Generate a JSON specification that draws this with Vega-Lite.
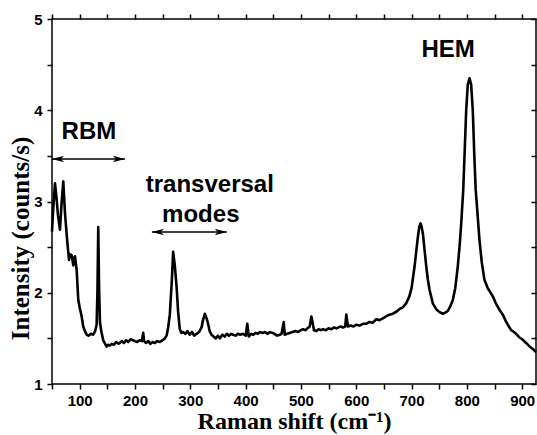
{
  "$schema": "https://vega.github.io/schema/vega-lite/v6.json",
  "width": 484,
  "height": 365,
  "autosize": {"type": "none"},
  "padding": {"left": 52, "top": 19, "right": 1, "bottom": 51},
  "background": "white",
  "config": {
    "view": {"stroke": "black", "strokeWidth": 1.5}
  },
  "datasets": {
    "spectrum": [
      {"shift": 50, "intensity": 2.67}, {"shift": 52, "intensity": 2.9}, {"shift": 55.4, "intensity": 3.2}, {"shift": 58, "intensity": 3.05},
      {"shift": 60.8, "intensity": 2.85}, {"shift": 64.4, "intensity": 2.69}, {"shift": 67, "intensity": 2.95}, {"shift": 70.4, "intensity": 3.22},
      {"shift": 73.5, "intensity": 2.87}, {"shift": 77.6, "intensity": 2.56}, {"shift": 80.7, "intensity": 2.36}, {"shift": 83, "intensity": 2.42},
      {"shift": 85.6, "intensity": 2.41}, {"shift": 88.5, "intensity": 2.3}, {"shift": 90, "intensity": 2.38}, {"shift": 91.5, "intensity": 2.4},
      {"shift": 94.6, "intensity": 2.25}, {"shift": 97.5, "intensity": 1.92}, {"shift": 100, "intensity": 1.84}, {"shift": 103.6, "intensity": 1.74},
      {"shift": 106.5, "intensity": 1.63}, {"shift": 109.5, "intensity": 1.58}, {"shift": 112.7, "intensity": 1.54}, {"shift": 116, "intensity": 1.53},
      {"shift": 120, "intensity": 1.55}, {"shift": 124.6, "intensity": 1.54}, {"shift": 128, "intensity": 1.58}, {"shift": 130.7, "intensity": 1.65},
      {"shift": 132.2, "intensity": 2.03}, {"shift": 133.6, "intensity": 2.72}, {"shift": 135.2, "intensity": 2.03}, {"shift": 136.7, "intensity": 1.68},
      {"shift": 139, "intensity": 1.58}, {"shift": 142.6, "intensity": 1.48}, {"shift": 145, "intensity": 1.45}, {"shift": 148.8, "intensity": 1.41},
      {"shift": 151, "intensity": 1.43}, {"shift": 154.7, "intensity": 1.42}, {"shift": 158, "intensity": 1.44}, {"shift": 162, "intensity": 1.43},
      {"shift": 166, "intensity": 1.46}, {"shift": 170, "intensity": 1.44}, {"shift": 172.8, "intensity": 1.45}, {"shift": 176, "intensity": 1.47},
      {"shift": 180, "intensity": 1.45}, {"shift": 184, "intensity": 1.48}, {"shift": 188, "intensity": 1.46}, {"shift": 192, "intensity": 1.49},
      {"shift": 196.3, "intensity": 1.48}, {"shift": 200, "intensity": 1.47}, {"shift": 204, "intensity": 1.46}, {"shift": 208, "intensity": 1.48},
      {"shift": 212.5, "intensity": 1.47}, {"shift": 214.9, "intensity": 1.56}, {"shift": 216.5, "intensity": 1.47}, {"shift": 220, "intensity": 1.45},
      {"shift": 224, "intensity": 1.47}, {"shift": 228, "intensity": 1.44}, {"shift": 232, "intensity": 1.46}, {"shift": 236, "intensity": 1.45},
      {"shift": 240, "intensity": 1.47}, {"shift": 245, "intensity": 1.46}, {"shift": 250, "intensity": 1.48}, {"shift": 254, "intensity": 1.5},
      {"shift": 257.1, "intensity": 1.53}, {"shift": 260, "intensity": 1.62}, {"shift": 263, "intensity": 1.76}, {"shift": 266.7, "intensity": 2.14},
      {"shift": 269, "intensity": 2.45}, {"shift": 272, "intensity": 2.3}, {"shift": 275.2, "intensity": 2.07}, {"shift": 278, "intensity": 1.79},
      {"shift": 281, "intensity": 1.6}, {"shift": 284, "intensity": 1.56}, {"shift": 287, "intensity": 1.57}, {"shift": 291, "intensity": 1.55},
      {"shift": 295, "intensity": 1.58}, {"shift": 299, "intensity": 1.54}, {"shift": 303, "intensity": 1.57}, {"shift": 307, "intensity": 1.53},
      {"shift": 311.3, "intensity": 1.55}, {"shift": 316, "intensity": 1.57}, {"shift": 320.3, "intensity": 1.62}, {"shift": 323, "intensity": 1.7},
      {"shift": 326.3, "intensity": 1.77}, {"shift": 329, "intensity": 1.73}, {"shift": 332.2, "intensity": 1.66}, {"shift": 335, "intensity": 1.58},
      {"shift": 338.4, "intensity": 1.54}, {"shift": 342, "intensity": 1.52}, {"shift": 346, "intensity": 1.5}, {"shift": 350, "intensity": 1.53},
      {"shift": 353.4, "intensity": 1.5}, {"shift": 358, "intensity": 1.54}, {"shift": 362, "intensity": 1.52}, {"shift": 366, "intensity": 1.55},
      {"shift": 370, "intensity": 1.53}, {"shift": 374, "intensity": 1.55}, {"shift": 377.4, "intensity": 1.54}, {"shift": 382, "intensity": 1.53},
      {"shift": 386, "intensity": 1.55}, {"shift": 390, "intensity": 1.54}, {"shift": 395, "intensity": 1.55}, {"shift": 400.3, "intensity": 1.53},
      {"shift": 403, "intensity": 1.66}, {"shift": 405.7, "intensity": 1.52}, {"shift": 410, "intensity": 1.55}, {"shift": 414, "intensity": 1.54},
      {"shift": 418, "intensity": 1.56}, {"shift": 422, "intensity": 1.55}, {"shift": 426, "intensity": 1.57}, {"shift": 431.5, "intensity": 1.56},
      {"shift": 435, "intensity": 1.57}, {"shift": 440, "intensity": 1.55}, {"shift": 443.6, "intensity": 1.57}, {"shift": 448, "intensity": 1.56},
      {"shift": 452, "intensity": 1.55}, {"shift": 457, "intensity": 1.53}, {"shift": 461.7, "intensity": 1.54}, {"shift": 465, "intensity": 1.55},
      {"shift": 468.9, "intensity": 1.68}, {"shift": 470.7, "intensity": 1.54}, {"shift": 475, "intensity": 1.55}, {"shift": 479.8, "intensity": 1.56},
      {"shift": 485, "intensity": 1.57}, {"shift": 490, "intensity": 1.58}, {"shift": 495, "intensity": 1.57}, {"shift": 500, "intensity": 1.59},
      {"shift": 503.8, "intensity": 1.6}, {"shift": 508, "intensity": 1.59}, {"shift": 512, "intensity": 1.61}, {"shift": 515.9, "intensity": 1.63},
      {"shift": 518.9, "intensity": 1.74}, {"shift": 521, "intensity": 1.68}, {"shift": 523.6, "intensity": 1.59}, {"shift": 528, "intensity": 1.58},
      {"shift": 532, "intensity": 1.6}, {"shift": 536, "intensity": 1.59}, {"shift": 540, "intensity": 1.6}, {"shift": 545, "intensity": 1.59},
      {"shift": 550, "intensity": 1.61}, {"shift": 555, "intensity": 1.6}, {"shift": 560, "intensity": 1.62}, {"shift": 564.1, "intensity": 1.61},
      {"shift": 568, "intensity": 1.62}, {"shift": 572, "intensity": 1.63}, {"shift": 576, "intensity": 1.62}, {"shift": 580, "intensity": 1.63},
      {"shift": 582.1, "intensity": 1.76}, {"shift": 585, "intensity": 1.63}, {"shift": 590, "intensity": 1.64}, {"shift": 595, "intensity": 1.63},
      {"shift": 600, "intensity": 1.65}, {"shift": 606, "intensity": 1.64}, {"shift": 612, "intensity": 1.66}, {"shift": 618, "intensity": 1.66},
      {"shift": 624, "intensity": 1.68}, {"shift": 630, "intensity": 1.67}, {"shift": 636, "intensity": 1.71}, {"shift": 642, "intensity": 1.7},
      {"shift": 648, "intensity": 1.72}, {"shift": 654, "intensity": 1.74}, {"shift": 660, "intensity": 1.76}, {"shift": 666, "intensity": 1.77},
      {"shift": 672, "intensity": 1.79}, {"shift": 678, "intensity": 1.82}, {"shift": 684, "intensity": 1.84}, {"shift": 690, "intensity": 1.88},
      {"shift": 696, "intensity": 1.96}, {"shift": 700, "intensity": 2.05}, {"shift": 705.5, "intensity": 2.29}, {"shift": 711.4, "intensity": 2.61},
      {"shift": 714, "intensity": 2.72}, {"shift": 716.3, "intensity": 2.76}, {"shift": 718, "intensity": 2.73}, {"shift": 720.5, "intensity": 2.65},
      {"shift": 723.5, "intensity": 2.47}, {"shift": 726.6, "intensity": 2.29}, {"shift": 729.6, "intensity": 2.14}, {"shift": 732.6, "intensity": 2.03},
      {"shift": 738.6, "intensity": 1.88}, {"shift": 744.6, "intensity": 1.82}, {"shift": 750, "intensity": 1.79}, {"shift": 756.6, "intensity": 1.77},
      {"shift": 760, "intensity": 1.78}, {"shift": 765.6, "intensity": 1.8}, {"shift": 770, "intensity": 1.85}, {"shift": 774.6, "intensity": 1.92},
      {"shift": 779, "intensity": 2.05}, {"shift": 783.6, "intensity": 2.29}, {"shift": 787, "intensity": 2.52}, {"shift": 789.8, "intensity": 2.76},
      {"shift": 793.5, "intensity": 3.13}, {"shift": 798.8, "intensity": 4.0}, {"shift": 801.7, "intensity": 4.28}, {"shift": 804.8, "intensity": 4.35},
      {"shift": 807.8, "intensity": 4.28}, {"shift": 810.7, "intensity": 4.0}, {"shift": 813.5, "intensity": 3.5}, {"shift": 816, "intensity": 3.13},
      {"shift": 822.8, "intensity": 2.58}, {"shift": 827, "intensity": 2.33}, {"shift": 831.9, "intensity": 2.14}, {"shift": 837.8, "intensity": 2.05},
      {"shift": 841, "intensity": 2.02}, {"shift": 846.9, "intensity": 1.96}, {"shift": 852, "intensity": 1.89}, {"shift": 859.2, "intensity": 1.81},
      {"shift": 865, "intensity": 1.76}, {"shift": 871.1, "intensity": 1.68}, {"shift": 876, "intensity": 1.63}, {"shift": 880.1, "intensity": 1.59},
      {"shift": 885, "intensity": 1.57}, {"shift": 889, "intensity": 1.55}, {"shift": 895, "intensity": 1.51}, {"shift": 900, "intensity": 1.49},
      {"shift": 907.1, "intensity": 1.45}, {"shift": 912, "intensity": 1.42}, {"shift": 918, "intensity": 1.39}, {"shift": 925, "intensity": 1.35}
    ],
    "arrows": [
      {"x1": 50, "x2": 181.8, "y": 3.466},
      {"x1": 230.6, "x2": 366, "y": 2.666}
    ],
    "heads": [
      {"x": 50, "y": 3.466, "dir": "left"},
      {"x": 181.8, "y": 3.466, "dir": "right"},
      {"x": 230.6, "y": 2.666, "dir": "left"},
      {"x": 366, "y": 2.666, "dir": "right"}
    ],
    "labels": [
      {"x": 116.8, "y": 3.685, "label": "RBM"},
      {"x": 335.3, "y": 3.104, "label": "transversal"},
      {"x": 319, "y": 2.775, "label": "modes"},
      {"x": 766, "y": 4.584, "label": "HEM"}
    ]
  },
  "layer": [
    {
      "data": {"name": "spectrum"},
      "mark": {"type": "line", "color": "black", "strokeWidth": 2.6, "strokeJoin": "round"},
      "encoding": {
        "x": {
          "field": "shift", "type": "quantitative",
          "scale": {"domain": [50, 925], "nice": false, "zero": false},
          "axis": {
            "orient": "bottom", "grid": true, "gridOpacity": 0, "domain": false,
            "ticks": true, "tickColor": "black", "tickWidth": 1.5,
            "values": [50, 100, 150, 200, 250, 300, 350, 400, 450, 500, 550, 600, 650, 700, 750, 800, 850, 900],
            "labelExpr": "datum.value % 100 === 0 ? datum.label : ''",
            "tickSize": 5,
            "labelFont": "Liberation Sans", "labelFontWeight": "bold", "labelFontSize": 15, "labelPadding": 4, "labelColor": "black",
            "labelFlush": false, "labelOverlap": false,
            "title": "Raman shift (cm⁻¹)", "titleColor": "black",
            "titleFont": "Liberation Serif", "titleFontWeight": "bold", "titleFontSize": 24,
            "titleBaseline": "alphabetic", "titleY": 44
          }
        },
        "y": {
          "field": "intensity", "type": "quantitative",
          "scale": {"domain": [1, 5], "nice": false, "zero": false},
          "axis": {
            "orient": "left", "grid": true, "gridOpacity": 0, "domain": false,
            "ticks": true, "tickColor": "black", "tickWidth": 1.5,
            "values": [1, 1.5, 2, 2.5, 3, 3.5, 4, 4.5, 5],
            "labelExpr": "datum.value % 1 === 0 ? format(datum.value, 'd') : ''",
            "tickSize": 5,
            "labelFont": "Liberation Sans", "labelFontWeight": "bold", "labelFontSize": 15, "labelPadding": 5, "labelColor": "black",
            "labelFlush": false, "labelOverlap": false,
            "title": "Intensity (counts/s)", "titleColor": "black",
            "titleFont": "Liberation Serif", "titleFontWeight": "bold", "titleFontSize": 25,
            "titleBaseline": "alphabetic", "titleX": -24, "titleY": 219
          }
        }
      }
    },
    {
      "data": {"name": "arrows"},
      "mark": {"type": "rule", "color": "black", "strokeWidth": 1.3},
      "encoding": {
        "x": {
          "field": "x1", "type": "quantitative",
          "axis": {"orient": "top", "grid": true, "gridOpacity": 0, "domain": false, "ticks": true, "tickColor": "black", "tickWidth": 1.5, "labels": false, "title": null,
            "values": [50, 100, 150, 200, 250, 300, 350, 400, 450, 500, 550, 600, 650, 700, 750, 800, 850, 900], "tickSize": 5}
        },
        "x2": {"field": "x2"},
        "y": {
          "field": "y", "type": "quantitative",
          "axis": {"orient": "right", "grid": true, "gridOpacity": 0, "domain": false, "ticks": true, "tickColor": "black", "tickWidth": 1.5, "labels": false, "title": null,
            "values": [1, 1.5, 2, 2.5, 3, 3.5, 4, 4.5, 5], "tickSize": -5}
        }
      }
    },
    {
      "data": {"name": "heads"},
      "mark": {"type": "point", "filled": true, "color": "black", "opacity": 1, "size": 576},
      "encoding": {
        "x": {"field": "x", "type": "quantitative", "axis": null},
        "y": {"field": "y", "type": "quantitative", "axis": null},
        "shape": {
          "field": "dir", "type": "nominal", "legend": null,
          "scale": {"domain": ["left", "right"], "range": ["M0,0L1,-0.27L0.75,0L1,0.27Z", "M0,0L-1,-0.27L-0.75,0L-1,0.27Z"]}
        }
      }
    },
    {
      "data": {"name": "labels"},
      "mark": {"type": "text", "font": "Liberation Sans", "fontWeight": "bold", "fontSize": 24, "align": "center", "baseline": "alphabetic", "color": "black"},
      "encoding": {
        "x": {"field": "x", "type": "quantitative", "axis": null},
        "y": {"field": "y", "type": "quantitative", "axis": null},
        "text": {"field": "label", "type": "nominal"}
      }
    }
  ],
  "resolve": {"axis": {"x": "independent", "y": "independent"}}
}
